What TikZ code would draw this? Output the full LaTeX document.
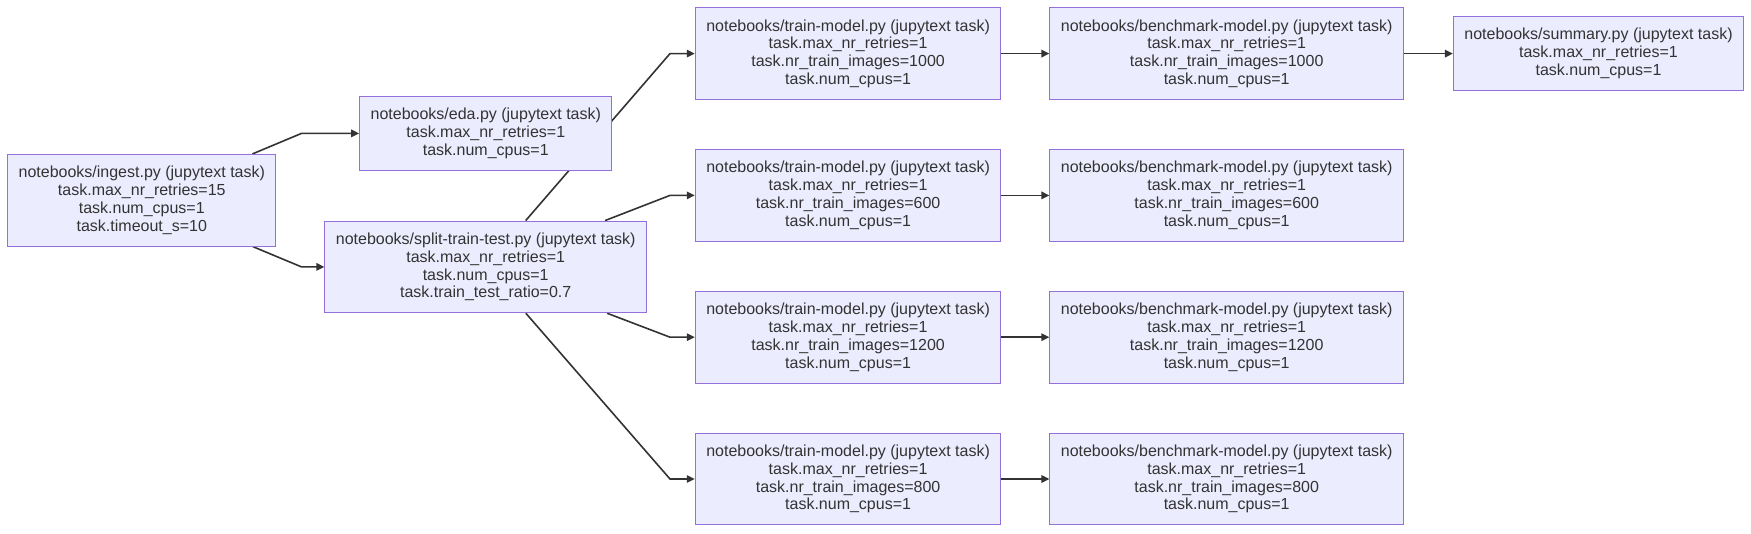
\documentclass[tikz,border=0pt]{standalone}
\usepackage{fontspec}
\setmainfont{Liberation Sans}
\usepackage{tikz}
\usetikzlibrary{arrows.meta,backgrounds}
\definecolor{boxfill}{HTML}{ECECFF}
\definecolor{boxline}{HTML}{9370DB}
\definecolor{edgeline}{HTML}{333333}

\begin{document}
\begin{tikzpicture}[x=1pt,y=-1pt,>={Triangle[length=8pt,width=7.5pt]},
  task/.style={draw=boxline,fill=boxfill,line width=1pt,align=center,text=edgeline,
    font=\fontsize{16}{17.8}\selectfont,inner xsep=11pt,inner ysep=4pt,
    execute at begin node={\rule{0pt}{15.5pt}}},
  three/.style={task,minimum height=73.7pt},
  four/.style={task,minimum height=91.7pt},
  edge/.style={->,draw=edgeline,line width=1.6pt}]
\useasboundingbox (0,0) rectangle (1751,534);
% Left column
\node[four] (ingest) at (141.8,200.3) {notebooks/ingest.py (jupytext task)\\task.max\_nr\_retries=15\\task.num\_cpus=1\\task.timeout\_s=10};
\node[three] (eda) at (485.8,133.4) {notebooks/eda.py (jupytext task)\\task.max\_nr\_retries=1\\task.num\_cpus=1};
\node[four] (split) at (485.7,266.9) {notebooks/split-train-test.py (jupytext task)\\task.max\_nr\_retries=1\\task.num\_cpus=1\\task.train\_test\_ratio=0.7};
% Train and benchmark rows
\foreach \n/\y in {1000/53.6,600/195.4,1200/337.2,800/479}{
  \node[four] (train\n) at (848.1,\y) {notebooks/train-model.py (jupytext task)\\task.max\_nr\_retries=1\\task.nr\_train\_images=\n\\task.num\_cpus=1};
  \node[four] (bench\n) at (1226.7,\y) {notebooks/benchmark-model.py (jupytext task)\\task.max\_nr\_retries=1\\task.nr\_train\_images=\n\\task.num\_cpus=1};
  \coordinate (bend\n) at (670,\y);
}
\node[three] (summary) at (1598.5,53.6) {notebooks/summary.py (jupytext task)\\task.max\_nr\_retries=1\\task.num\_cpus=1};
% Bends
\coordinate (bendeda) at (301.5,133.4);
\coordinate (bendsplit) at (301.5,266.9);
% Edges, behind the boxes
\begin{scope}[on background layer]
\draw[edge] (ingest) -- (bendeda) -- (eda.west);
\draw[edge] (ingest) -- (bendsplit) -- (split.west);
\foreach \n in {1000,600,1200,800}{
  \draw[edge] (split) -- (bend\n) -- (train\n.west);
  \draw[edge] (train\n) -- (bench\n);
}
\draw[edge] (bench1000) -- (summary);
\end{scope}
\end{tikzpicture}
\end{document}
